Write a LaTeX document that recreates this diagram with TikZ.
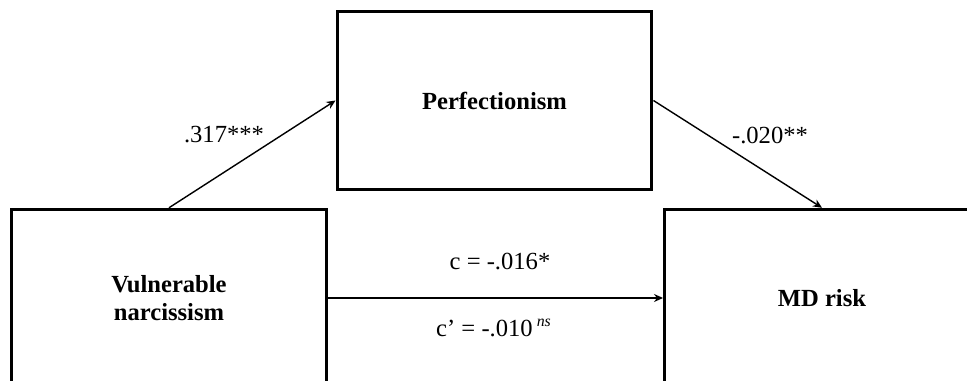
\documentclass[tikz,border=0pt]{standalone}
\usepackage{fontspec}
\setmainfont{Liberation Serif}
\usetikzlibrary{arrows.meta}
\begin{document}
\begin{tikzpicture}[
  x=0.02cm, y=-0.02cm,
  every node/.style={font=\fontsize{14}{16}\selectfont},
  var/.style={draw, line width=1.7pt, minimum width=6.3cm, minimum height=3.55cm,
    align=center, inner sep=0pt, font=\fontsize{14}{16}\selectfont\bfseries},
  link/.style={-{Stealth[length=1.8mm,width=1.6mm]}, line width=0.8pt}
]
\useasboundingbox (0,0) rectangle (967,381);
\clip (0,0) rectangle (967,381);
% the three variables
\node[var] (perf) at (494.5,100.5) {Perfectionism};
\node[var] (vn) at (169,298) {Vulnerable\\narcissism};
\node[var] (md) at (822,298) {MD risk};
% paths
\draw[link] (vn.north) -- (perf.west);
\draw[link] (perf.east) -- (md.north);
\draw[link] (vn.east) -- (md.west);
% coefficients
\node (a) at (224,135) {.317***};
\node (b) at (770,135) {-.020**};
\node (c) at (500,261) {c = -.016*};
\node (cp) at (494,328) {c' = -.010\,\textsuperscript{\textit{\small ns}}};
\end{tikzpicture}
\end{document}
